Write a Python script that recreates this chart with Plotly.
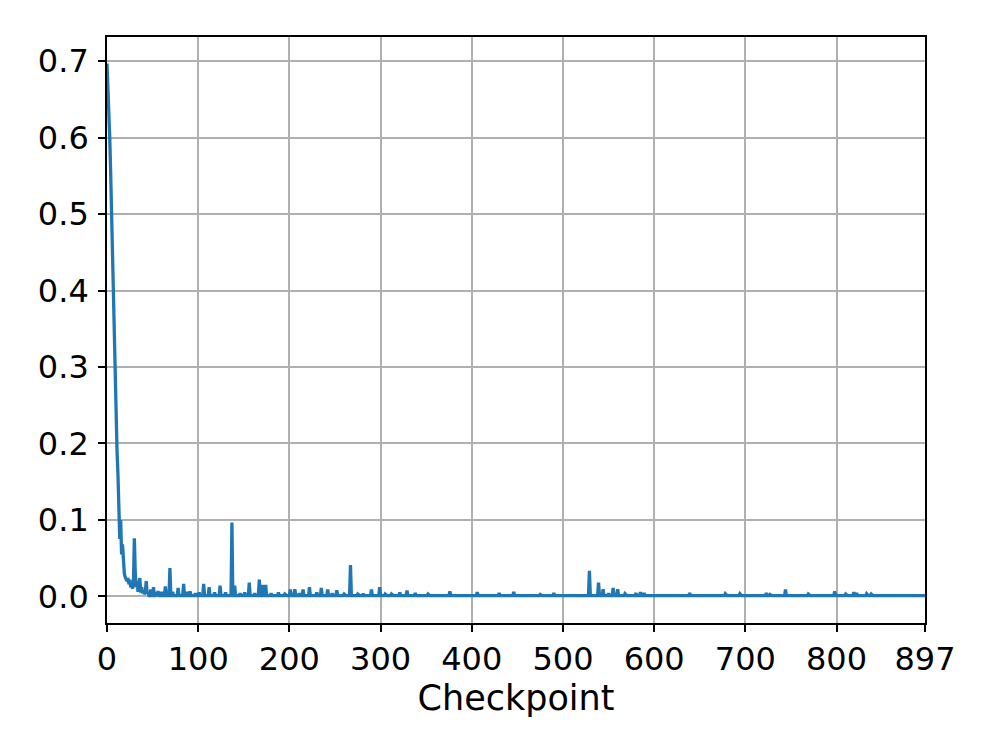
import numpy as np
import plotly.graph_objects as go

# values, checkpoints 0..897
n_points = 898

# the initial drop, checkpoints 0..45
early_vals = [
    0.697, 0.67, 0.635, 0.60, 0.555, 0.50, 0.44, 0.38, 0.325, 0.27,
    0.22, 0.19, 0.16, 0.112, 0.075, 0.10, 0.055, 0.068, 0.04, 0.03,
    0.025, 0.022, 0.02, 0.024, 0.016, 0.022, 0.012, 0.02, 0.01, 0.018,
    0.076, 0.03, 0.012, 0.02, 0.006, 0.015, 0.024, 0.005, 0.012, 0.004,
    0.008, 0.003, 0.005, 0.02, 0.004, 0.006,
]

# isolated spikes after that
spike_idx = [
    48, 51, 54, 56, 60, 64, 69, 72, 78, 84, 88, 91, 97, 101, 106, 112,
    118, 124, 130, 137, 140, 146, 151, 156, 162, 167, 171, 174, 180, 188,
    195, 201, 206, 211, 215, 222, 230, 235, 242, 247, 252, 260, 267, 275,
    281, 290, 299, 305, 312, 321, 329, 338, 352, 363, 376, 390, 406, 418,
    430, 446, 460, 475, 490, 505, 516, 529, 539, 544, 550, 555, 560, 568,
    580, 585, 589, 594, 604, 612, 625, 639, 655, 678, 694, 708, 723, 727,
    744, 756, 769, 781, 798, 810, 819, 822, 833, 838, 851, 863, 867, 880,
    896,
]
spike_val = [
    0.009, 0.012, 0.005, 0.007, 0.006, 0.013, 0.037, 0.006, 0.011, 0.0165,
    0.006, 0.0065, 0.004, 0.005, 0.0165, 0.012, 0.005, 0.014, 0.005, 0.0965,
    0.014, 0.004, 0.005, 0.018, 0.004, 0.022, 0.015, 0.015, 0.004, 0.005,
    0.003, 0.009, 0.0095, 0.004, 0.009, 0.012, 0.005, 0.011, 0.009, 0.004,
    0.008, 0.003, 0.041, 0.003, 0.0035, 0.009, 0.012, 0.003, 0.003, 0.005,
    0.0075, 0.0045, 0.003, 0.002, 0.0065, 0.002, 0.0057, 0.002, 0.0045, 0.006,
    0.002, 0.0025, 0.0045, 0.002, 0.002, 0.0335, 0.018, 0.0095, 0.004, 0.011,
    0.0095, 0.0035, 0.0045, 0.0057, 0.0045, 0.002, 0.002, 0.0017, 0.002, 0.0045,
    0.002, 0.0035, 0.0035, 0.002, 0.0045, 0.0025, 0.009, 0.002, 0.003, 0.002,
    0.0065, 0.003, 0.0057, 0.0045, 0.0035, 0.003, 0.002, 0.002, 0.002, 0.0015,
    0.002,
]
base_level = 0.001

x_ticks = [0, 100, 200, 300, 400, 500, 600, 700, 800, 897]
y_ticks = [0.0, 0.1, 0.2, 0.3, 0.4, 0.5, 0.6, 0.7]

loss = np.full(n_points, base_level)
loss[:len(early_vals)] = early_vals
loss[spike_idx] = spike_val
checkpoints = np.arange(n_points)

font = "DejaVu Sans"
fig = go.Figure(
    go.Scatter(
        x=checkpoints, y=loss, mode="lines",
        line=dict(color="#1f77b4", width=3.3),
        showlegend=False,
    )
)

axis_common = dict(
    showgrid=True, gridcolor="#b0b0b0", gridwidth=1.7,
    showline=True, linecolor="black", linewidth=1.7, mirror=True,
    ticks="outside", ticklen=7, tickwidth=1.7, tickcolor="black",
    tickfont=dict(family=font, size=32, color="black"),
    zeroline=False,
)

# page body adds ~8px, so the figure is a bit smaller than the window
fig.update_layout(
    width=980, height=731,
    margin=dict(l=99, r=63, t=29, b=116),
    paper_bgcolor="white", plot_bgcolor="white",
    xaxis=dict(
        range=[0, 897], tickvals=x_ticks, ticktext=[str(v) for v in x_ticks],
        title=dict(text="Checkpoint", font=dict(family=font, size=35, color="black"), standoff=2),
        **axis_common,
    ),
    yaxis=dict(
        range=[-0.0348, 0.7316], tickvals=y_ticks, ticktext=[f"{v:.1f}" for v in y_ticks],
        ticklabelstandoff=3,
        **axis_common,
    ),
)

fig.write_html("out.html", config={"displayModeBar": False})
